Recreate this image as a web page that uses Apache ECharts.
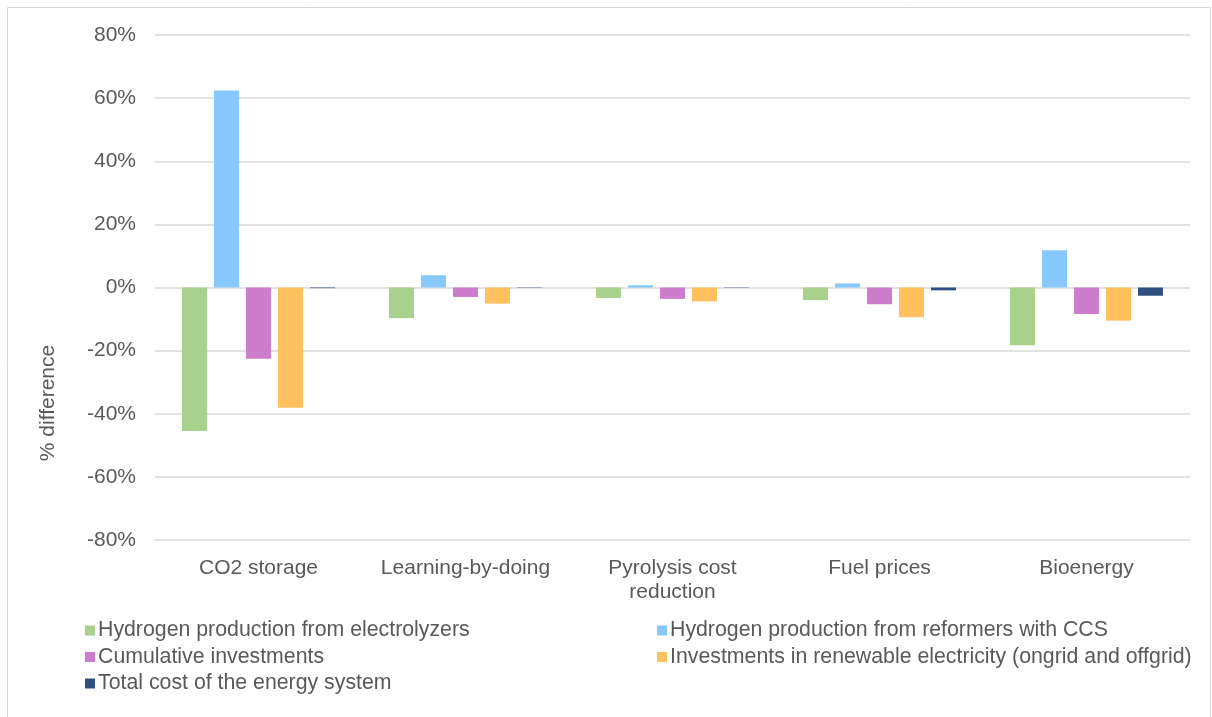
<!DOCTYPE html>
<html>
<head>
<meta charset="utf-8">
<script src="https://cdn.jsdelivr.net/npm/echarts@6/dist/echarts.min.js"></script>
<style>
  html, body { margin: 0; padding: 0; background: #fff; }
  #chart { width: 1212px; height: 717px; }
</style>
</head>
<body>
<div id="chart"></div>
<script>
// Sensitivity scenarios (x axis)
const categories = ['CO2 storage', 'Learning-by-doing', 'Pyrolysis cost\nreduction', 'Fuel prices', 'Bioenergy'];

// % difference per indicator
const electrolyzers = [-45.5, -9.7, -3.3, -4.0, -18.3];
const reformersCCS  = [62.4, 3.9, 0.7, 1.3, 11.8];
const cumulativeInv = [-22.6, -3.0, -3.6, -5.3, -8.4];
const renewableInv  = [-38.1, -5.1, -4.4, -9.4, -10.5];
const totalCost     = [-0.2, -0.1, -0.1, -0.9, -2.6];

const yTicks = { min: -80, max: 80, interval: 20 };

const seriesNames = [
  'Hydrogen production from electrolyzers',
  'Hydrogen production from reformers with CCS',
  'Cumulative investments',
  'Investments in renewable electricity (ongrid and offgrid)',
  'Total cost of the energy system'
];
const seriesData = [electrolyzers, reformersCCS, cumulativeInv, renewableInv, totalCost];
const colors = ['#a9d18e', '#87c9fe', '#cc7dcc', '#ffc15e', '#2f4f80'];

const textColor = '#595959';
const font = 'Liberation Sans, Arial, sans-serif';
const fontSize = 21;

const chart = echarts.init(document.getElementById('chart'));

const legendCommon = {
  orient: 'vertical',
  icon: 'rect',
  itemWidth: 10,
  itemHeight: 10,
  itemGap: 5.5,
  textStyle: { color: textColor, fontSize: 21.3, fontFamily: font, padding: [0, 0, 0, -2] },
  padding: 0
};

chart.setOption({
  animation: false,
  backgroundColor: '#fff',
  color: colors,
  grid: { left: 155, right: 22, top: 35, bottom: 177, containLabel: false },
  xAxis: {
    type: 'category',
    data: categories,
    axisLine: { show: false },
    axisTick: { show: false },
    axisLabel: { color: textColor, fontSize: fontSize, fontFamily: font, margin: 16, lineHeight: 24, interval: 0 }
  },
  yAxis: {
    type: 'value',
    min: yTicks.min,
    max: yTicks.max,
    interval: yTicks.interval,
    axisLine: { show: false },
    axisTick: { show: false },
    splitLine: { lineStyle: { color: '#d9d9d9', width: 1.5 } },
    axisLabel: { color: textColor, fontSize: fontSize, fontFamily: font, margin: 19, formatter: v => v + '%' }
  },
  legend: [
    Object.assign({ left: 85, top: 620, data: [seriesNames[0], seriesNames[2], seriesNames[4]] }, legendCommon),
    Object.assign({ left: 657, top: 620, data: [seriesNames[1], seriesNames[3]] }, legendCommon)
  ],
  graphic: [
    {
      type: 'rect',
      shape: { x: 7.5, y: 7.5, width: 1203, height: 720 },
      style: { fill: 'none', stroke: '#d9d9d9', lineWidth: 1 },
      silent: true
    },
    {
      type: 'text',
      x: 48, y: 403,
      rotation: Math.PI / 2,
      style: { text: '% difference', fill: textColor, fontSize: fontSize, fontFamily: font, align: 'center', verticalAlign: 'middle' }
    }
  ],
  series: seriesData.map((d, i) => ({
    name: seriesNames[i],
    type: 'bar',
    data: d,
    barWidth: 25,
    barGap: '28%',
    itemStyle: { color: colors[i] }
  }))
});
</script>
</body>
</html>
